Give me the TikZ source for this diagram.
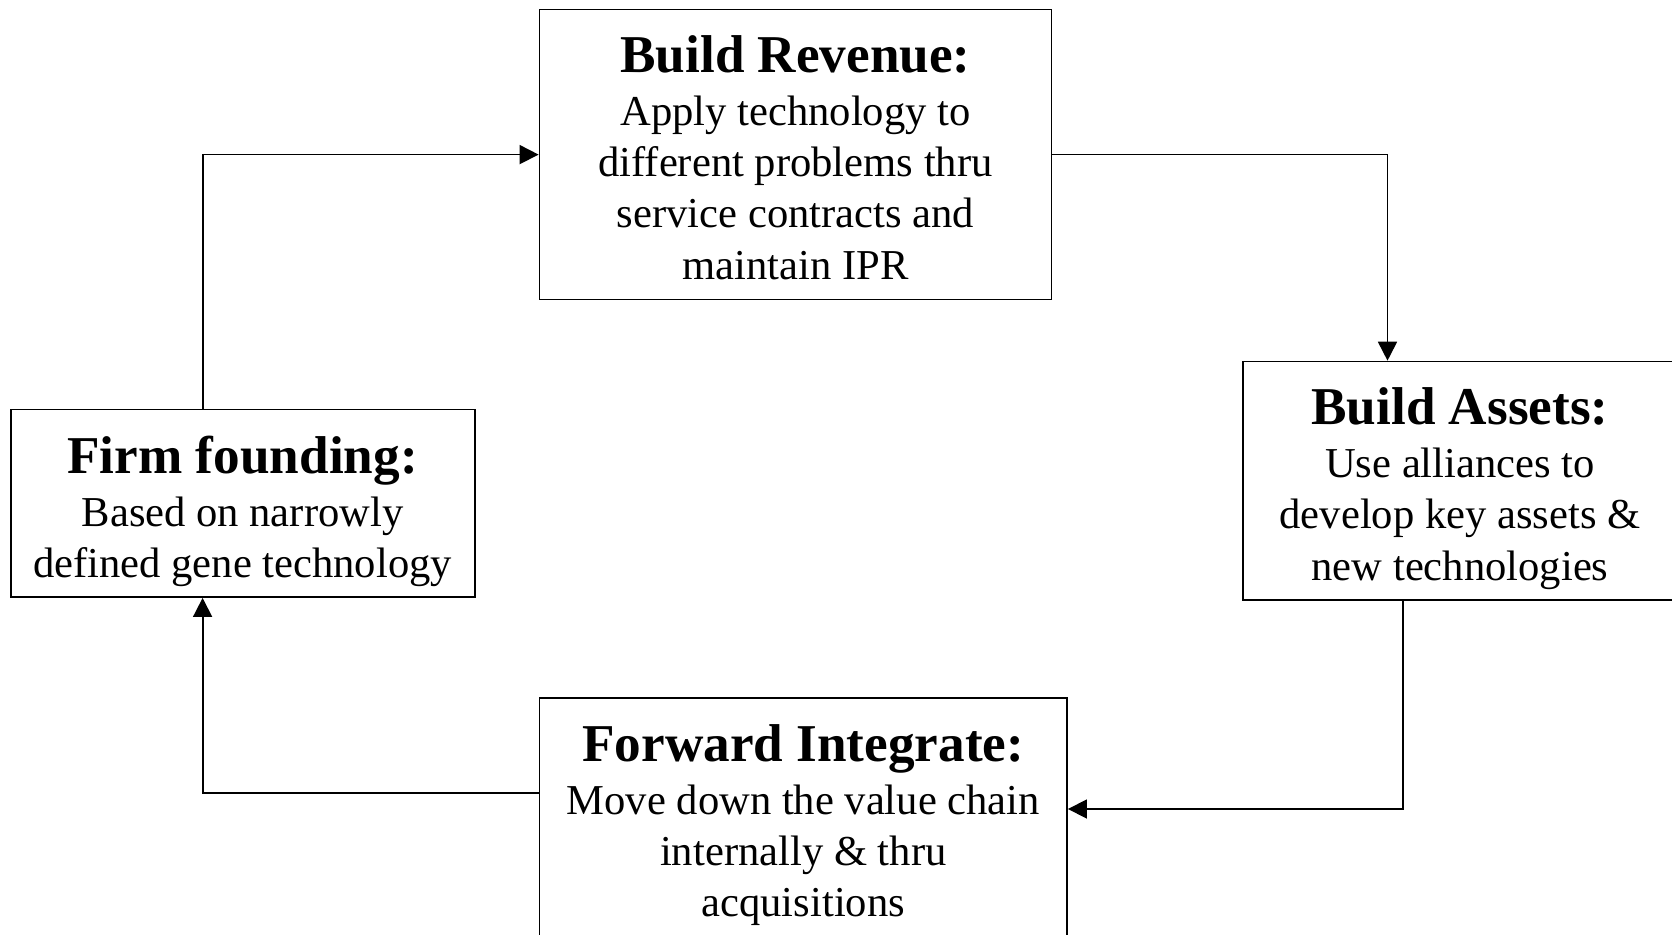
\documentclass[tikz,border=0pt]{standalone}
\usepackage{fontspec}
\setmainfont{Liberation Serif}
\usetikzlibrary{arrows.meta}
\newcommand{\titlef}{\fontsize{26.6pt}{30pt}\selectfont\bfseries}
\newcommand{\bodyf}{\fontsize{21.3pt}{25.6pt}\selectfont}
\tikzset{
  box/.style={draw, line width=0.9pt, rectangle, inner sep=0pt},
  boxtext/.style={align=center, inner sep=0pt, font=\bodyf},
  arr/.style={line width=0.9pt, -{Triangle[length=9.5pt,width=9.5pt]}},
}
\begin{document}
\begin{tikzpicture}[x=0.5pt,y=-0.5pt]
\useasboundingbox (0,0) rectangle (1672,935);
\clip (0,0) rectangle (1672,935);
% Build Revenue
\node[box, minimum width=256pt, minimum height=145pt] (rev) at (795.5,154.6) {};
\node[boxtext, yshift=-1.4pt] (revtext) at (rev.center)
  {{\titlef Build Revenue:}\\[1pt] Apply technology to\\ different problems thru\\ service contracts and\\ maintain IPR};
% Build Assets
\node[box, minimum width=217pt, minimum height=119.4pt] (assets) at (1460,481) {};
\node[boxtext, yshift=-3.7pt] (assetstext) at (assets.center)
  {{\titlef Build Assets:}\\[1pt] Use alliances to\\ develop key assets \&\\ new technologies};
% Firm founding
\node[box, minimum width=232pt, minimum height=93.75pt] (firm) at (242.6,503.3) {};
\node[boxtext, yshift=-4pt] (firmtext) at (firm.center)
  {{\titlef Firm founding:}\\[1pt] Based on narrowly\\ defined gene technology};
% Forward Integrate
\node[box, minimum width=263.75pt, minimum height=145pt] (fwd) at (803.3,843) {};
\node[boxtext, yshift=9pt] (fwdtext) at (fwd.center)
  {{\titlef Forward Integrate:}\\[1pt] Move down the value chain\\ internally \& thru\\ acquisitions};
% connectors
\draw[arr] ([xshift=-20pt]firm.north) |- (rev.west);
\draw[arr] (rev.east) -| ([xshift=-36.25pt]assets.north);
\draw[arr] ([xshift=-28.5pt]assets.south) |- ([yshift=17pt]fwd.east);
\draw[arr] ([yshift=25pt]fwd.west) -| ([xshift=-20pt]firm.south);
\end{tikzpicture}
\end{document}
